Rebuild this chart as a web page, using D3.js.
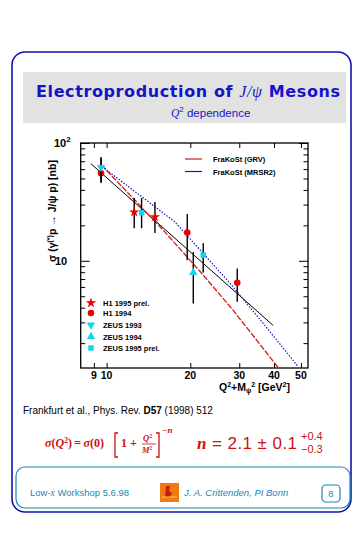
<!DOCTYPE html>
<html>
<head>
<meta charset="utf-8">
<script src="https://cdn.jsdelivr.net/npm/d3@7"></script>
<style>
  body { margin: 0; background: #fff; }
  svg { display: block; }
</style>
</head>
<body>
<svg id="page" width="363" height="535"></svg>
<script>
// values: x = Q^2 + M_psi^2 [GeV^2], y = sigma [nb]
var h1_95 = [
  { x: 12.57, y: 25.9, lo: 18.9, hi: 34.1 },
  { x: 14.92, y: 23.6, lo: 17.2, hi: 31.5 }
];
var h1_94 = [
  { x: 9.55, y: 55.3, lo: 45.7, hi: 76 },
  { x: 19.5, y: 17.4, lo: 10.1, hi: 24.9 },
  { x: 29.5, y: 6.5, lo: 4.48, hi: 8.6 }
];
var zeus_93 = [
  { x: 9.55, y: 62.2, lo: 47, hi: 74 }
];
var zeus_94 = [
  { x: 20.5, y: 7.95, lo: 4.35, hi: 11.9 }
];
var zeus_95 = [
  { x: 13.36, y: 25.6, lo: 18.9, hi: 34.1 },
  { x: 22.26, y: 11.2, lo: 7.95, hi: 14.1 }
];
var fitLine = [[8.78, 66.7], [39.7, 2.83]];
var grvLine = [[9.59, 65.0], [15.98, 18.2], [21.65, 8.15], [28.5, 3.81], [41.4, 1.24]];
var mrsLine = [[9.62, 63.2], [17.6, 21.4], [27.8, 6.43], [36.6, 2.94], [48.9, 1.26]];
var xTicks = [9, 10, 20, 30, 40, 50];
var yMinor = [2, 3, 4, 5, 6, 7, 8, 9, 20, 30, 40, 50, 60, 70, 80, 90];
var legendSeries = ["H1 1995 prel.", "H1 1994", "ZEUS 1993", "ZEUS 1994", "ZEUS 1995 prel."];
var legendLines = ["FraKoSt (GRV)", "FraKoSt (MRSR2)"];

var svg = d3.select("#page");
var blue = "#1212b0";
var teal = "#1b86b8";
var red = "#ee0000";
var cyan = "#10d8ec";
var sans = "'Liberation Sans', Arial, sans-serif";
var serif = "'Liberation Serif', 'Times New Roman', serif";

// page frame
svg.append("rect")
  .attr("x", 12).attr("y", 52).attr("width", 339).attr("height", 460)
  .attr("rx", 13)
  .style("fill", "none").style("stroke", blue).style("stroke-width", 1.6);

// title box
svg.append("rect")
  .attr("x", 23).attr("y", 72).attr("width", 323).attr("height", 51)
  .style("fill", "#e2e2e2");

var title = svg.append("text")
  .attr("x", 36).attr("y", 97)
  .attr("textLength", 304)
  .style("font-family", "'DejaVu Sans', sans-serif").style("font-weight", 700)
  .style("font-size", "16px").style("fill", "#1414c8");
title.append("tspan").text("Electroproduction of ");
title.append("tspan").style("font-family", serif).style("font-style", "italic").style("font-weight", 400).text("J/ψ");
title.append("tspan").text(" Mesons");

var sub = svg.append("text")
  .attr("x", 171).attr("y", 117)
  .style("font-family", sans).style("font-size", "11.5px").style("fill", "#1414c8");
sub.append("tspan").style("font-family", serif).style("font-style", "italic").text("Q");
sub.append("tspan").attr("dy", -5).style("font-size", "8px").text("2");
sub.append("tspan").attr("dy", 5).text(" dependence");

// plot
var pL = 80.7, pR = 308, pT = 143, pB = 368;
var x = d3.scaleLog().domain([8.07, 53]).range([pL, pR]);
var y = d3.scaleLog().domain([1.23, 100]).range([pB, pT]);

var plot = svg.append("g");

plot.append("rect")
  .attr("x", pL).attr("y", pT).attr("width", pR - pL).attr("height", pB - pT)
  .style("fill", "none").style("stroke", "black").style("stroke-width", 1.3);

// x axis, ticks inside
plot.append("g")
  .attr("transform", `translate(0, ${pB})`)
  .call(d3.axisTop(x).tickValues(xTicks).tickSize(5).tickFormat(""))
  .call(g => g.select(".domain").remove());
plot.append("g")
  .attr("transform", `translate(0, ${pT})`)
  .call(d3.axisBottom(x).tickValues(xTicks).tickSize(5).tickFormat(""))
  .call(g => g.select(".domain").remove());

plot.selectAll(".xlab")
  .data(xTicks)
  .enter()
  .append("text")
  .attr("class", "xlab")
  .attr("x", d => x(d))
  .attr("y", 379)
  .style("text-anchor", "middle")
  .style("font-family", sans).style("font-weight", 700).style("font-size", "10.5px")
  .text(d => d);

// y axis, ticks inside on both sides
[[pL, d3.axisRight], [pR, d3.axisLeft]].forEach(function (a) {
  plot.append("g")
    .attr("transform", `translate(${a[0]}, 0)`)
    .call(a[1](y).tickValues([10, 100]).tickSize(9).tickFormat(""))
    .call(g => g.select(".domain").remove());
  plot.append("g")
    .attr("transform", `translate(${a[0]}, 0)`)
    .call(a[1](y).tickValues(yMinor).tickSize(4.5).tickFormat(""))
    .call(g => g.select(".domain").remove());
});

var ylab = plot.append("text")
  .attr("x", 54).attr("y", y(100) + 4)
  .style("font-family", sans).style("font-weight", 700).style("font-size", "11px");
ylab.append("tspan").text("10");
ylab.append("tspan").attr("dy", -5).style("font-size", "8px").text("2");
plot.append("text")
  .attr("x", 55).attr("y", y(10) + 4)
  .style("font-family", sans).style("font-weight", 700).style("font-size", "11px")
  .text("10");

// axis titles
var ytitle = plot.append("text")
  .attr("transform", "translate(56, 211) rotate(-90)")
  .style("text-anchor", "middle")
  .style("font-family", sans).style("font-weight", 700).style("font-size", "10.5px");
ytitle.append("tspan").text("σ (γ");
ytitle.append("tspan").attr("dy", -4).style("font-size", "7px").text("(*)");
ytitle.append("tspan").attr("dy", 4).text("p → J/ψ p)  [nb]");

var xtitle = plot.append("text")
  .attr("x", 219).attr("y", 391)
  .style("font-family", sans).style("font-weight", 700).style("font-size", "10.5px");
xtitle.append("tspan").text("Q");
xtitle.append("tspan").attr("dy", -4).style("font-size", "7px").text("2");
xtitle.append("tspan").attr("dy", 4).text("+M");
xtitle.append("tspan").attr("dy", 2).style("font-size", "7px").text("ψ");
xtitle.append("tspan").attr("dy", -6).style("font-size", "7px").text("2");
xtitle.append("tspan").attr("dy", 4).text("  [GeV");
xtitle.append("tspan").attr("dy", -4).style("font-size", "7px").text("2");
xtitle.append("tspan").attr("dy", 4).text("]");

// curves
var grvCol = "#d81818", mrsCol = "#1818c8";
var line = d3.line().x(d => x(d[0])).y(d => y(d[1]));
plot.append("path").datum(fitLine).attr("d", line)
  .style("fill", "none").style("stroke", "black").style("stroke-width", 1);
plot.append("path").datum(grvLine).attr("d", line)
  .style("fill", "none").style("stroke", grvCol).style("stroke-width", 1.3)
  .style("stroke-dasharray", "6,1.5");
plot.append("path").datum(mrsLine).attr("d", line)
  .style("fill", "none").style("stroke", mrsCol).style("stroke-width", 1.2)
  .style("stroke-dasharray", "1.5,1.5");

// markers
var symbols = [
  [h1_95, d3.symbolStar, red, 34],
  [h1_94, d3.symbolCircle, red, 34],
  [zeus_93, d3.symbolTriangle, cyan, 30, 180],
  [zeus_94, d3.symbolTriangle, cyan, 30, 0],
  [zeus_95, d3.symbolSquare, cyan, 30]
];

symbols.forEach(function (s) {
  var g = plot.append("g");
  g.selectAll("line")
    .data(s[0])
    .enter()
    .append("line")
    .attr("x1", d => x(d.x)).attr("x2", d => x(d.x))
    .attr("y1", d => y(d.lo)).attr("y2", d => y(d.hi))
    .style("stroke", "black").style("stroke-width", 1.4);
  g.selectAll("path")
    .data(s[0])
    .enter()
    .append("path")
    .attr("d", d3.symbol().type(s[1]).size(s[3]))
    .attr("transform", d => `translate(${x(d.x)}, ${y(d.y)}) rotate(${s[4] || 0})`)
    .style("fill", s[2]);
});

// marker legend
var legY = [303, 313, 325, 336.5, 348];
legendSeries.forEach(function (name, i) {
  var s = symbols[i];
  plot.append("path")
    .attr("d", d3.symbol().type(s[1]).size(s[3]))
    .attr("transform", `translate(91, ${legY[i]}) rotate(${s[4] || 0})`)
    .style("fill", s[2]);
  plot.append("text")
    .attr("x", 103).attr("y", legY[i] + 3)
    .style("font-family", sans).style("font-weight", 700).style("font-size", "7.5px")
    .text(name);
});

// line legend
var lineCols = [grvCol, mrsCol];
legendLines.forEach(function (name, i) {
  var ly = 159 + i * 12.5;
  plot.append("line")
    .attr("x1", 185).attr("x2", 202).attr("y1", ly).attr("y2", ly)
    .style("stroke", lineCols[i]).style("stroke-width", 1.2);
  plot.append("text")
    .attr("x", 213).attr("y", ly + 3)
    .style("font-family", sans).style("font-weight", 700).style("font-size", "7.5px")
    .text(name);
});

// reference
var ref = svg.append("text")
  .attr("x", 23).attr("y", 414)
  .style("font-family", sans).style("font-size", "10px");
ref.append("tspan").text("Frankfurt et al., Phys. Rev. ");
ref.append("tspan").style("font-weight", 700).text("D57");
ref.append("tspan").text(" (1998) 512");

// formula
var fred = "#cc1111";
var f = svg.append("g").style("fill", fred).style("font-family", serif).style("font-weight", 700);
var f1 = f.append("text").attr("x", 45).attr("y", 447).style("font-size", "12px");
f1.append("tspan").style("font-style", "italic").text("σ");
f1.append("tspan").text("(");
f1.append("tspan").style("font-style", "italic").text("Q");
f1.append("tspan").attr("dy", -4).style("font-size", "7.5px").text("2");
f1.append("tspan").attr("dy", 4).text(")\u2009=\u2009");
f1.append("tspan").style("font-style", "italic").text("σ");
f1.append("tspan").text("(0)");
f.append("path").attr("d", "M118,433 h-3 v24 h3").style("fill", "none").style("stroke", fred).style("stroke-width", 1.3);
f.append("text").attr("x", 121).attr("y", 447).style("font-size", "12px").text("1 +");
var fq = f.append("text").attr("x", 143).attr("y", 441).style("font-size", "8.5px").style("font-style", "italic");
fq.append("tspan").text("Q");
fq.append("tspan").attr("dy", -3).style("font-size", "5.5px").style("font-style", "normal").text("2");
f.append("line").attr("x1", 142).attr("x2", 156).attr("y1", 444).attr("y2", 444).style("stroke", fred).style("stroke-width", 0.8);
var fm = f.append("text").attr("x", 142).attr("y", 453).style("font-size", "8.5px").style("font-style", "italic");
fm.append("tspan").text("M");
fm.append("tspan").attr("dy", -3).style("font-size", "5.5px").style("font-style", "normal").text("2");
f.append("path").attr("d", "M156,433 h3 v24 h-3").style("fill", "none").style("stroke", fred).style("stroke-width", 1.3);
f.append("text").attr("x", 162).attr("y", 433).style("font-size", "9px").style("font-style", "italic").text("−n");

var f2 = f.append("text").attr("x", 197).attr("y", 449)
  .attr("textLength", 100)
  .style("font-size", "17px").style("font-weight", 400);
f2.append("tspan").style("font-style", "italic").style("font-weight", 700).text("n");
f2.append("tspan").style("font-family", sans).text(" = 2.1 ± 0.1");
f.append("text").attr("x", 301).attr("y", 440).style("font-family", sans).style("font-weight", 400).style("font-size", "11px").text("+0.4");
f.append("text").attr("x", 301).attr("y", 453).style("font-family", sans).style("font-weight", 400).style("font-size", "11px").text("−0.3");

// footer
svg.append("rect")
  .attr("x", 16).attr("y", 467).attr("width", 334).attr("height", 41)
  .attr("rx", 9)
  .style("fill", "none").style("stroke", teal).style("stroke-width", 1.2);
var low = svg.append("text")
  .attr("x", 30).attr("y", 496)
  .style("font-family", sans).style("font-size", "9.5px").style("fill", teal);
low.append("tspan").text("Low-");
low.append("tspan").style("font-family", serif).style("font-style", "italic").text("x");
low.append("tspan").text(" Workshop 5.6.98");

var logo = svg.append("g");
logo.append("rect").attr("x", 160).attr("y", 483).attr("width", 19).attr("height", 19).style("fill", "#f07a10");
logo.append("path").attr("d", "M166,486 l4,0 l-1,5 l3,2 l-2,4 l-5,0 z").style("fill", "#c02010");
logo.append("line").attr("x1", 162).attr("x2", 177).attr("y1", 497).attr("y2", 497).style("stroke", "#f8d040").style("stroke-width", 1);

svg.append("text")
  .attr("x", 184).attr("y", 496)
  .style("font-family", sans).style("font-style", "italic").style("font-size", "9.5px").style("fill", teal)
  .text("J. A. Crittenden, PI Bonn");

svg.append("rect")
  .attr("x", 322).attr("y", 485).attr("width", 18).attr("height", 17)
  .attr("rx", 4)
  .style("fill", "none").style("stroke", teal).style("stroke-width", 1.2);
svg.append("text")
  .attr("x", 331).attr("y", 497)
  .style("text-anchor", "middle")
  .style("font-family", sans).style("font-size", "9.5px").style("fill", teal)
  .text("8");
</script>
</body>
</html>
